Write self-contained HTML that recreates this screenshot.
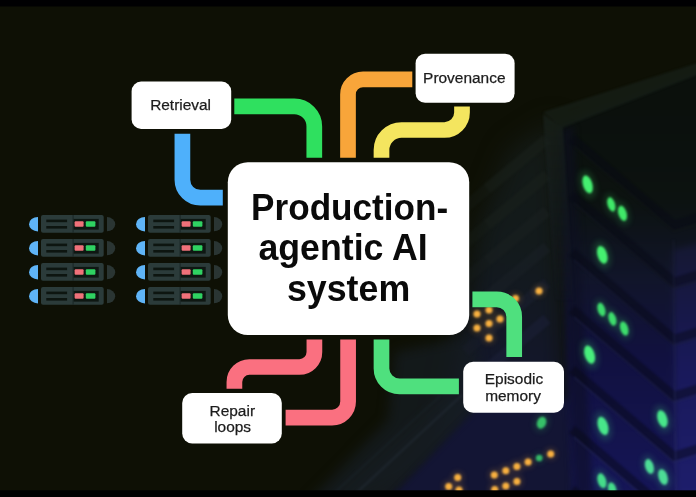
<!DOCTYPE html>
<html>
<head>
<meta charset="utf-8">
<title>Production-agentic AI system</title>
<style>
html,body{margin:0;padding:0;background:#0e1005;}
body{width:696px;height:497px;overflow:hidden;position:relative;font-family:"Liberation Sans",sans-serif;}
svg{position:absolute;left:0;top:0;display:block;}
.lbl{font-family:"Liberation Sans",sans-serif;font-size:15.45px;fill:#1c1c1c;stroke:#1c1c1c;stroke-width:0.25px;text-anchor:middle;}
.main{font-family:"Liberation Sans",sans-serif;font-size:36.6px;font-weight:700;fill:#0a0a0a;text-anchor:middle;}
.pipe{fill:none;stroke-width:15.7;stroke-linecap:butt;stroke-linejoin:round;}
</style>
</head>
<body>
<svg width="696" height="497" viewBox="0 0 696 497">
<defs>
  <linearGradient id="lface" x1="0" y1="120" x2="0" y2="497" gradientUnits="userSpaceOnUse">
    <stop offset="0" stop-color="#141a15"/>
    <stop offset="0.35" stop-color="#131a1c"/>
    <stop offset="0.65" stop-color="#13172a"/>
    <stop offset="1" stop-color="#131536"/>
  </linearGradient>
  <linearGradient id="rface" x1="0" y1="100" x2="0" y2="497" gradientUnits="userSpaceOnUse">
    <stop offset="0" stop-color="#0b100c"/>
    <stop offset="0.25" stop-color="#0c1210"/>
    <stop offset="0.45" stop-color="#11152a"/>
    <stop offset="0.65" stop-color="#111140"/>
    <stop offset="1" stop-color="#161658"/>
  </linearGradient>
  <linearGradient id="fcol" x1="0" y1="235" x2="0" y2="497" gradientUnits="userSpaceOnUse">
    <stop offset="0" stop-color="#15182f"/>
    <stop offset="0.5" stop-color="#19195a"/>
    <stop offset="1" stop-color="#1e1e6c"/>
  </linearGradient>
  <linearGradient id="vedge" x1="0" y1="240" x2="0" y2="497" gradientUnits="userSpaceOnUse"><stop offset="0" stop-color="#1a1f30"/><stop offset="1" stop-color="#2e3270"/></linearGradient>
  <linearGradient id="post" x1="0" y1="114" x2="0" y2="300" gradientUnits="userSpaceOnUse">
    <stop offset="0" stop-color="#1a231d"/>
    <stop offset="1" stop-color="#151a28" stop-opacity="0.3"/>
  </linearGradient>
  <filter id="b2" x="-50%" y="-50%" width="200%" height="200%" color-interpolation-filters="sRGB"><feGaussianBlur stdDeviation="1.2"/></filter>
  <filter id="b1" x="-50%" y="-50%" width="200%" height="200%" color-interpolation-filters="sRGB"><feGaussianBlur stdDeviation="0.45"/></filter>
  <filter id="b12" x="-50%" y="-50%" width="200%" height="200%" color-interpolation-filters="sRGB"><feGaussianBlur stdDeviation="12"/></filter>
  <filter id="b4" x="-50%" y="-50%" width="200%" height="200%" color-interpolation-filters="sRGB"><feGaussianBlur stdDeviation="3"/></filter>
  <filter id="b09" x="-50%" y="-50%" width="200%" height="200%" color-interpolation-filters="sRGB"><feGaussianBlur stdDeviation="0.9"/></filter>
  <filter id="soft" x="0" y="0" width="696" height="497" filterUnits="userSpaceOnUse" color-interpolation-filters="sRGB"><feGaussianBlur stdDeviation="0.45"/></filter>
  <filter id="b6" x="-50%" y="-50%" width="200%" height="200%" color-interpolation-filters="sRGB"><feGaussianBlur stdDeviation="6"/></filter>
  <g id="srv">
    <path d="M9,2 A9,7.2 0 0 0 9,16.4 Z" fill="#5fb4f7"/>
    <rect x="12" y="0" width="62.7" height="17.8" rx="2" fill="#2b3b3a"/>
    <rect x="17.3" y="4.6" width="20.8" height="2.6" fill="#0d1510"/>
    <rect x="17.3" y="11" width="20.8" height="2.6" fill="#0d1510"/>
    <rect x="43.5" y="0" width="1.2" height="17.8" fill="#1d2a28"/>
    <rect x="44.6" y="3.9" width="25.1" height="10.7" fill="#0e1712"/>
    <rect x="45.6" y="6.3" width="9" height="5.5" rx="1" fill="#f0717a"/>
    <rect x="56.8" y="6.3" width="9.6" height="5.5" rx="1" fill="#2fd262"/>
    <path d="M78,2.1 A8.2,7.1 0 0 1 78,16.3 Z" fill="#2a3533"/>
  </g>
</defs>

<!-- background -->
<rect x="0" y="0" width="696" height="497" fill="#0e1005"/>
<g filter="url(#b12)">
  <!-- left face of rack -->
  <polygon points="556,120 572,530 370,530 440,440 462,330 478,230 510,150" fill="url(#lface)"/>
</g>
<g filter="url(#b6)">
  <!-- diagonal floor streaks -->
  <polygon points="318,510 452,388 482,404 380,510" fill="#1a222b" opacity="0.6"/>
  <polygon points="395,352 475,335 485,405 420,470 330,510 300,510 388,420" fill="#161c21" opacity="0.75"/>
</g>
<g filter="url(#b4)">
  <polygon points="486,400 384,505 384,530 580,530 572,400" fill="#131534"/>
</g>
<g filter="url(#b2)" stroke="#232c36" stroke-width="2.5" opacity="0.5">
  <path d="M352,497 L462,395"/>
  <path d="M330,497 L440,396" opacity="0.5"/>
</g>
<g filter="url(#b4)">
  <!-- right face of rack -->
  <polygon points="558,122 720,62 720,530 574,530" fill="url(#rface)"/>
  <!-- far right column -->
  <polygon points="673,250 720,238 720,530 677,530" fill="url(#fcol)"/>
</g>
<g filter="url(#b4)">
  <polygon points="560,130 574,126 594,530 576,530" fill="#0c0e20" opacity="0.55"/>
</g>
<g filter="url(#b2)" stroke-width="11" fill="none" opacity="0.55">
<path stroke="#1a211b" d="M547,139 L487,189"/>
<path stroke="#1a211b" opacity="0.5" d="M487,189 L465,207.5"/>
<path stroke="#1a211c" d="M547,175 L487,225"/>
<path stroke="#1a211c" opacity="0.5" d="M487,225 L465,243.5"/>
<path stroke="#1a2020" d="M547,211 L487,261"/>
<path stroke="#1a2020" opacity="0.5" d="M487,261 L465,279.5"/>
<path stroke="#1a2026" d="M547,247 L487,297"/>
<path stroke="#1a2026" opacity="0.5" d="M487,297 L465,315.5"/>
<path stroke="#1b2030" d="M547,283 L487,333"/>
<path stroke="#1b2030" opacity="0.5" d="M487,333 L465,351.5"/>
<path stroke="#1c2038" d="M547,319 L487,369"/>
<path stroke="#1c2038" opacity="0.5" d="M487,369 L465,387.5"/>
</g>
<g filter="url(#b2)" opacity="0.9">
  <!-- top band and post -->
  <polygon points="543,112 700,62 700,74 562,128" fill="#182019" opacity="0.8"/>
  <polygon points="543,114 563,128 574,300 556,300" fill="url(#post)" opacity="0.8"/>
</g>
<g filter="url(#b2)" stroke="#080916" stroke-width="9" opacity="0.45" fill="none">
<path d="M572,138.5 L674,225.2 L700,217.2"/>
<path d="M572,195.5 L674,282.2 L700,274.2"/>
<path d="M572,252.5 L674,339.2 L700,331.2"/>
<path d="M572,309.5 L674,396.2 L700,388.2"/>
<path d="M572,369.5 L674,456.2 L700,448.2"/>
<path d="M572,429.5 L674,516.2 L700,508.2"/>
<path d="M572,489.5 L674,576.2 L700,568.2"/>
</g>
<g filter="url(#b2)" stroke-width="1.6" opacity="0.5" fill="none">
<path stroke="#141a18" d="M574,146.2 L674,231.2 L700,223.2"/>
<path stroke="#171c24" d="M574,203.2 L674,288.2 L700,280.2"/>
<path stroke="#1c2038" d="M574,260.2 L674,345.2 L700,337.2"/>
<path stroke="#22264c" d="M574,317.2 L674,402.2 L700,394.2"/>
<path stroke="#282c5c" d="M574,377.2 L674,462.2 L700,454.2"/>
<path stroke="#2c3066" d="M574,437.2 L674,522.2 L700,514.2"/>
<path stroke="#2c3066" d="M574,497.2 L674,582.2 L700,574.2"/>
<path stroke="url(#vedge)" d="M673.5,240 L676,497"/>
</g>
<!-- glow -->
<g filter="url(#b4)" opacity="0.2">
<ellipse cx="587.6" cy="184.4" rx="7.2" ry="14.2" fill="#45f070" transform="rotate(-17 587.6 184.4)"/>
<ellipse cx="611.3" cy="204.4" rx="5.7" ry="11.2" fill="#40e868" transform="rotate(-17 611.3 204.4)"/>
<ellipse cx="622.5" cy="213.4" rx="6.3" ry="12.0" fill="#40e868" transform="rotate(-17 622.5 213.4)"/>
<ellipse cx="602.3" cy="254.8" rx="7.5" ry="14.2" fill="#45f070" transform="rotate(-17 602.3 254.8)"/>
<ellipse cx="601.4" cy="309.6" rx="5.7" ry="10.8" fill="#3ddc6c" transform="rotate(-17 601.4 309.6)"/>
<ellipse cx="612.4" cy="318.9" rx="5.7" ry="10.8" fill="#3ddc6c" transform="rotate(-17 612.4 318.9)"/>
<ellipse cx="624.2" cy="328.5" rx="6.0" ry="11.2" fill="#3ddc6c" transform="rotate(-17 624.2 328.5)"/>
<ellipse cx="589.6" cy="354.6" rx="7.8" ry="14.7" fill="#48ee7c" transform="rotate(-17 589.6 354.6)"/>
<ellipse cx="662.4" cy="418.8" rx="7.5" ry="13.8" fill="#48e68a" transform="rotate(-17 662.4 418.8)"/>
<ellipse cx="603" cy="425.9" rx="7.8" ry="14.7" fill="#48e68a" transform="rotate(-17 603 425.9)"/>
<ellipse cx="649.4" cy="466.4" rx="6.4" ry="11.7" fill="#4ddc96" transform="rotate(-17 649.4 466.4)"/>
<ellipse cx="663" cy="477" rx="6.9" ry="12.5" fill="#4ddc96" transform="rotate(-17 663 477)"/>
<ellipse cx="601.9" cy="480.7" rx="6.4" ry="11.7" fill="#45dc8a" transform="rotate(-17 601.9 480.7)"/>
<ellipse cx="612.2" cy="489" rx="6.0" ry="10.5" fill="#45dc8a" transform="rotate(-17 612.2 489)"/>
<ellipse cx="541.6" cy="422.7" rx="6.9" ry="9.4" fill="#36c068" transform="rotate(20 541.6 422.7)"/>
<circle cx="539.2" cy="458" r="5.1" fill="#35b868"/>
</g>
<g filter="url(#b4)" opacity="0.28" fill="#f7ad3c">
<circle cx="477" cy="314" r="5"/>
<circle cx="489" cy="310" r="5"/>
<circle cx="515.5" cy="298.5" r="5"/>
<circle cx="539" cy="291" r="5"/>
<circle cx="500" cy="319" r="5"/>
<circle cx="489" cy="323.5" r="5"/>
<circle cx="477" cy="328" r="5"/>
<circle cx="489" cy="338" r="5"/>
<circle cx="550.7" cy="453.9" r="5"/>
<circle cx="528.1" cy="462" r="5"/>
<circle cx="516.9" cy="466.4" r="5"/>
<circle cx="505.8" cy="470.8" r="5"/>
<circle cx="494.3" cy="475" r="5"/>
<circle cx="516.9" cy="481.5" r="5"/>
<circle cx="505.8" cy="486.1" r="5"/>
<circle cx="494.7" cy="489.5" r="5"/>
<circle cx="457.7" cy="477.5" r="5"/>
<circle cx="448.7" cy="486.5" r="5"/>
<circle cx="459" cy="490" r="5"/>
</g>
<!-- LEDs -->
<g filter="url(#b09)">
<ellipse cx="587.6" cy="184.4" rx="4.7" ry="9.2" fill="#45f070" transform="rotate(-17 587.6 184.4)"/>
<ellipse cx="611.3" cy="204.4" rx="3.7" ry="7.3" fill="#40e868" transform="rotate(-17 611.3 204.4)"/>
<ellipse cx="622.5" cy="213.4" rx="4.1" ry="7.8" fill="#40e868" transform="rotate(-17 622.5 213.4)"/>
<ellipse cx="602.3" cy="254.8" rx="4.8" ry="9.2" fill="#45f070" transform="rotate(-17 602.3 254.8)"/>
<ellipse cx="601.4" cy="309.6" rx="3.7" ry="7.0" fill="#3ddc6c" transform="rotate(-17 601.4 309.6)"/>
<ellipse cx="612.4" cy="318.9" rx="3.7" ry="7.0" fill="#3ddc6c" transform="rotate(-17 612.4 318.9)"/>
<ellipse cx="624.2" cy="328.5" rx="3.9" ry="7.3" fill="#3ddc6c" transform="rotate(-17 624.2 328.5)"/>
<ellipse cx="589.6" cy="354.6" rx="5.0" ry="9.5" fill="#48ee7c" transform="rotate(-17 589.6 354.6)"/>
<ellipse cx="662.4" cy="418.8" rx="4.8" ry="8.9" fill="#48e68a" transform="rotate(-17 662.4 418.8)"/>
<ellipse cx="603" cy="425.9" rx="5.0" ry="9.5" fill="#48e68a" transform="rotate(-17 603 425.9)"/>
<ellipse cx="649.4" cy="466.4" rx="4.2" ry="7.6" fill="#4ddc96" transform="rotate(-17 649.4 466.4)"/>
<ellipse cx="663" cy="477" rx="4.5" ry="8.1" fill="#4ddc96" transform="rotate(-17 663 477)"/>
<ellipse cx="601.9" cy="480.7" rx="4.2" ry="7.6" fill="#45dc8a" transform="rotate(-17 601.9 480.7)"/>
<ellipse cx="612.2" cy="489" rx="3.9" ry="6.8" fill="#45dc8a" transform="rotate(-17 612.2 489)"/>
<ellipse cx="541.6" cy="422.7" rx="4.5" ry="6.1" fill="#36c068" transform="rotate(20 541.6 422.7)"/>
<circle cx="539.2" cy="458" r="3.3" fill="#35b868"/>
</g>
<g filter="url(#b09)" fill="#f8b040">
<circle cx="477" cy="314" r="3.5"/>
<circle cx="489" cy="310" r="3.5"/>
<circle cx="515.5" cy="298.5" r="3.5"/>
<circle cx="539" cy="291" r="3.5"/>
<circle cx="500" cy="319" r="3.5"/>
<circle cx="489" cy="323.5" r="3.5"/>
<circle cx="477" cy="328" r="3.5"/>
<circle cx="489" cy="338" r="3.5"/>
<circle cx="550.7" cy="453.9" r="3.5"/>
<circle cx="528.1" cy="462" r="3.5"/>
<circle cx="516.9" cy="466.4" r="3.5"/>
<circle cx="505.8" cy="470.8" r="3.5"/>
<circle cx="494.3" cy="475" r="3.5"/>
<circle cx="516.9" cy="481.5" r="3.5"/>
<circle cx="505.8" cy="486.1" r="3.5"/>
<circle cx="494.7" cy="489.5" r="3.5"/>
<circle cx="457.7" cy="477.5" r="3.5"/>
<circle cx="448.7" cy="486.5" r="3.5"/>
<circle cx="459" cy="490" r="3.5"/>
</g>

<!-- server icons -->
<g filter="url(#b1)">
<use href="#srv" x="29" y="215"/><use href="#srv" x="29" y="239"/><use href="#srv" x="29" y="263"/><use href="#srv" x="29" y="287"/>
<use href="#srv" x="136" y="215"/><use href="#srv" x="136" y="239"/><use href="#srv" x="136" y="263"/><use href="#srv" x="136" y="287"/>
</g>

<g filter="url(#soft)">
<!-- pipes -->
<path class="pipe" stroke="#2fe05f" d="M234.3,106.4 H294.3 A20,20 0 0 1 314.3,126.4 V157.8"/>
<path class="pipe" stroke="#4eb0fb" d="M182.4,133.8 V179.7 A18,18 0 0 0 200.4,197.7 H222.8"/>
<path class="pipe" stroke="#f8a53a" d="M412.3,79.4 H363 A15,15 0 0 0 348,94.4 V157.7"/>
<path class="pipe" stroke="#f4e55f" d="M381.5,157.7 V150 A20,20 0 0 1 401.5,130 H444.5 A17.5,17.5 0 0 0 462,112.5 V106.5"/>
<path class="pipe" stroke="#fa7080" d="M314.4,339.6 V352 A15,15 0 0 1 299.4,367 H249.4 A15,15 0 0 0 234.4,382 V388.7"/>
<path class="pipe" stroke="#fa7080" d="M348.1,339.6 V401.6 A16,16 0 0 1 332.1,417.6 H285.6"/>
<path class="pipe" stroke="#4fe07e" d="M381.5,339.6 V368.4 A18,18 0 0 0 399.5,386.4 H458.9"/>
<path class="pipe" stroke="#4fe07e" d="M472.4,299.3 H496.7 A17.5,17.5 0 0 1 514.2,316.8 V357.1"/>

<!-- boxes -->
<rect x="227.8" y="162.2" width="241.4" height="172.8" rx="20" fill="#ffffff"/>
<rect x="131.6" y="81.6" width="99.6" height="47.3" rx="9.5" fill="#ffffff"/>
<rect x="415.6" y="53.8" width="99" height="49" rx="9.5" fill="#ffffff"/>
<rect x="182.2" y="393" width="99.6" height="50.4" rx="10" fill="#ffffff"/>
<rect x="463.2" y="361.8" width="100.8" height="51" rx="10" fill="#ffffff"/>

<text class="lbl" x="180.6" y="110.2">Retrieval</text>
<text class="lbl" x="464.3" y="82.9">Provenance</text>
<text class="lbl" x="232.3" y="415.9">Repair</text>
<text class="lbl" x="232.6" y="431.9">loops</text>
<text class="lbl" x="514" y="384.2">Episodic</text>
<text class="lbl" x="513" y="400.8">memory</text>

<text class="main" x="349.6" y="220.2" textLength="197" lengthAdjust="spacingAndGlyphs">Production-</text>
<text class="main" x="343.1" y="260.4" textLength="169.3" lengthAdjust="spacingAndGlyphs">agentic AI</text>
<text class="main" x="348.6" y="300.6" textLength="123.3" lengthAdjust="spacingAndGlyphs">system</text>

</g>
<!-- black bars -->
<rect x="0" y="0" width="696" height="6.5" fill="#000002"/>
<rect x="0" y="490.3" width="696" height="7" fill="#000000"/>
</svg>
</body>
</html>
